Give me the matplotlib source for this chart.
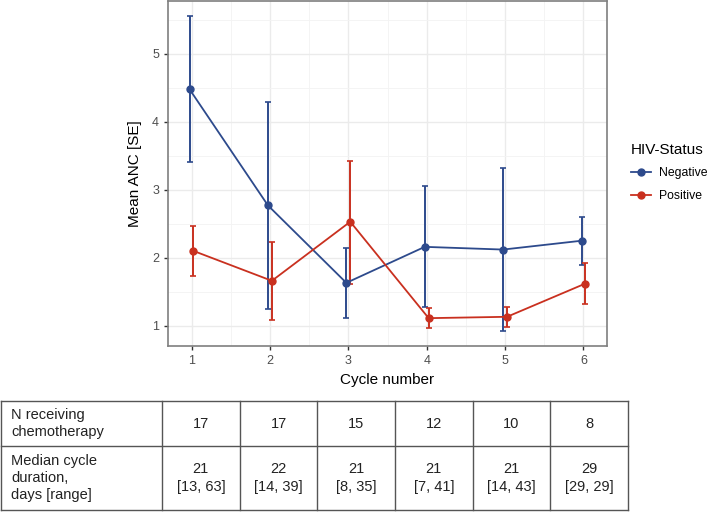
import matplotlib
matplotlib.use("Agg")
import matplotlib.pyplot as plt
from matplotlib.lines import Line2D
import numpy as np

plt.rcParams['font.family'] = ['Liberation Sans', 'DejaVu Sans']

cycles = [1, 2, 3, 4, 5, 6]
neg_mean = [4.48, 2.77, 1.63, 2.16, 2.12, 2.25]
neg_lo = [3.41, 1.25, 1.11, 1.27, 0.92, 1.90]
neg_hi = [5.56, 4.30, 2.14, 3.05, 3.32, 2.60]
pos_mean = [2.10, 1.66, 2.53, 1.11, 1.13, 1.62]
pos_lo = [1.73, 1.09, 1.62, 0.97, 0.98, 1.32]
pos_hi = [2.47, 2.23, 3.43, 1.26, 1.28, 1.92]

n_chemo = ["17", "17", "15", "12", "10", "8"]
median_dur = ["21\n[13, 63]", "22\n[14, 39]", "21\n[8, 35]", "21\n[7, 41]",
              "21\n[14, 43]", "29\n[29, 29]"]
row_labels = ["N receiving\nchemotherapy", "Median cycle\nduration,\ndays [range]"]

blue = "#2D4A8C"
red = "#C9301F"
W, H = 709, 512

fig = plt.figure(figsize=(W / 100, H / 100), dpi=100)
ax = fig.add_axes([168 / W, (H - 346) / H, (607 - 168) / W, 345 / H])

dodge = 0.025
series = [("Negative", neg_mean, neg_lo, neg_hi, blue, -dodge),
          ("Positive", pos_mean, pos_lo, pos_hi, red, dodge)]
handles = []
for name, m, lo, hi, col, dx in series:
    x = np.array(cycles) + dx
    m = np.array(m)
    err = [m - np.array(lo), np.array(hi) - m]
    ax.errorbar(x, m, yerr=err, color=col, lw=1.3, marker='o', ms=5,
                capsize=2, capthick=1.2, elinewidth=1.4, zorder=3)
    handles.append(Line2D([], [], color=col, lw=1.3, marker='o', ms=5, label=name))

ax.set_xlim(0.7, 6.3)
ax.set_ylim(0.7, 5.78)
ax.set_xticks(cycles)
ax.set_yticks([1, 2, 3, 4, 5])
ax.set_xticks(np.arange(1.5, 6, 1), minor=True)
ax.set_yticks(np.arange(1.5, 6, 1), minor=True)
ax.grid(True, which='major', color='#EBEBEB', lw=1.0)
ax.grid(True, which='minor', color='#F3F3F3', lw=0.6)
ax.set_axisbelow(True)
for s in ax.spines.values():
    s.set_color('#7F7F7F')
    s.set_linewidth(1.2)
ax.tick_params(which='major', colors='#333333', labelcolor='#4D4D4D',
               labelsize=9, length=3, width=1)
ax.tick_params(which='minor', length=0)
ax.set_xlabel("Cycle number", fontsize=11, labelpad=4)
ax.set_ylabel("Mean ANC [SE]", fontsize=11, labelpad=7)

leg = ax.legend(handles=handles, title="HIV-Status", loc='upper left',
                bbox_to_anchor=(1.03, 0.62), frameon=False, fontsize=8.8,
                title_fontsize=11, handlelength=1.6, handletextpad=0.7,
                labelspacing=0.85)
leg._legend_box.align = "left"

# table below the plot
tab = fig.add_axes([0, 0, 1, 1], facecolor='none')
tab.set_xlim(0, W)
tab.set_ylim(H, 0)
tab.axis('off')
col_edges = [1] + list(np.linspace(162, 628, 7))
row_edges = [401, 446, 510]
lc = '#555555'
for xe in col_edges:
    tab.plot([xe, xe], [row_edges[0], row_edges[-1]], color=lc, lw=1)
for ye in row_edges:
    tab.plot([col_edges[0], col_edges[-1]], [ye, ye], color=lc, lw=1)
rows = [n_chemo, median_dur]
for r in range(2):
    yc = (row_edges[r] + row_edges[r + 1]) / 2
    tab.text(11, yc, row_labels[r], ha='left', va='center', fontsize=10.5,
             color='#222222', linespacing=1.25)
    for c, val in enumerate(rows[r]):
        xc = (col_edges[c + 1] + col_edges[c + 2]) / 2
        tab.text(xc, yc, val, ha='center', va='center', fontsize=10.5,
                 color='#222222', linespacing=1.3)

fig.savefig("out.png", dpi=100)
